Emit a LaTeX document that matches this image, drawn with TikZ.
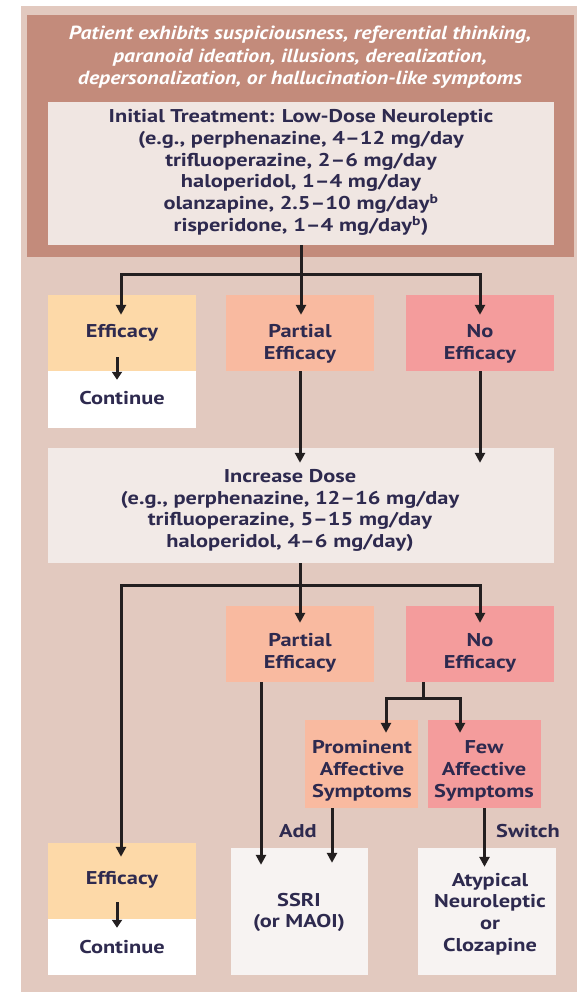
\documentclass[tikz,border=0pt]{standalone}
\usepackage{fontspec}
\setmainfont{PT Sans}
\newfontfamily\hdrfont[FakeStretch=1.15]{PT Sans}
\newfontfamily\bodyfont[FakeStretch=1.21]{PT Sans}
\usetikzlibrary{arrows.meta}
\definecolor{outerbg}{HTML}{E2C9BF}
\definecolor{hdrbg}{HTML}{C38B7B}
\definecolor{initbg}{HTML}{F0E6E2}
\definecolor{effbg}{HTML}{FDD9A8}
\definecolor{parbg}{HTML}{F9BAA0}
\definecolor{nobg}{HTML}{F49C9C}
\definecolor{incbg}{HTML}{F2EAE7}
\definecolor{resbg}{HTML}{F7F3F2}
\definecolor{txt}{HTML}{2E2A4F}
\definecolor{ink}{HTML}{231F20}
\begin{document}
\begin{tikzpicture}[x=1pt,y=-1pt,
  box/.style={rectangle, inner sep=0pt, draw=none},
  txtnode/.style={align=center, inner sep=0pt, text=txt, font=\bodyfont\bfseries\fontsize{18.5}{21.7}\selectfont},
  conn/.style={line width=3pt, draw=ink, line join=miter},
  arr/.style={conn, -{Triangle[length=10pt,width=10pt]}},
  sarr/.style={conn, -{Triangle[length=8pt,width=10pt]}}]
\useasboundingbox (0,0) rectangle (577,993);
\fill[outerbg] (21,6) rectangle (577,992);
% boxes
\node[box, fill=hdrbg, minimum width=547pt, minimum height=242pt] (hdr) at (300.5,136) {};
\node[box, fill=initbg, minimum width=506pt, minimum height=143pt] (init) at (301,173.5) {};
\node[box, fill=effbg, minimum width=148pt, minimum height=76pt] (eff1) at (122,333) {};
\node[box, fill=white, minimum width=148pt, minimum height=57pt] (cont1) at (122,399.5) {};
\node[box, fill=parbg, minimum width=148pt, minimum height=76pt] (par1) at (300,333) {};
\node[box, fill=nobg, minimum width=148pt, minimum height=76pt] (no1) at (480,333) {};
\node[box, fill=incbg, minimum width=506pt, minimum height=115pt] (inc) at (301,505.5) {};
\node[box, fill=parbg, minimum width=148pt, minimum height=76pt] (par2) at (300,644) {};
\node[box, fill=nobg, minimum width=148pt, minimum height=76pt] (no2) at (480,644) {};
\node[box, fill=parbg, minimum width=113pt, minimum height=88pt] (prom) at (361.5,764) {};
\node[box, fill=nobg, minimum width=113pt, minimum height=88pt] (few) at (484.5,764) {};
\node[box, fill=effbg, minimum width=148pt, minimum height=76pt] (eff2) at (122,881) {};
\node[box, fill=white, minimum width=148pt, minimum height=56pt] (cont2) at (122,947) {};
\node[box, fill=resbg, minimum width=137pt, minimum height=127pt] (ssri) at (299.5,911.5) {};
\node[box, fill=resbg, minimum width=138pt, minimum height=127pt] (atyp) at (487,911.5) {};
% texts
\node[align=center, inner sep=0pt, text=white, font=\hdrfont\bfseries\itshape\fontsize{19}{22.5}\selectfont] (hdrt) at (300,57.5)
  {Patient exhibits suspiciousness, referential thinking,\\paranoid ideation, illusions, derealization,\\depersonalization, or hallucination-like symptoms};
\node[txtnode] (initt) at (301,172.5) {Initial Treatment: Low-Dose Neuroleptic\\(e.g., perphenazine, 4–12 mg/day\\trifluoperazine, 2–6 mg/day\\haloperidol, 1–4 mg/day\\olanzapine, 2.5–10 mg/day\textsuperscript{b}\\risperidone, 1–4 mg/day\textsuperscript{b})};
\node[txtnode] (eff1t) at (122,333) {Efficacy};
\node[txtnode] (cont1t) at (122,398) {Continue};
\node[txtnode] (par1t) at (300,344) {Partial\\Efficacy};
\node[txtnode] (no1t) at (480,344) {No\\Efficacy};
\node[txtnode] (inct) at (290,510.5) {Increase Dose\\(e.g., perphenazine, 12–16 mg/day\\trifluoperazine, 5–15 mg/day\\haloperidol, 4–6 mg/day)};
\node[txtnode] (par2t) at (300,653) {Partial\\Efficacy};
\node[txtnode] (no2t) at (480,653) {No\\Efficacy};
\node[txtnode] (promt) at (362,771) {Prominent\\Affective\\Symptoms};
\node[txtnode] (fewt) at (484,771) {Few\\Affective\\Symptoms};
\node[txtnode] (eff2t) at (122,880) {Efficacy};
\node[txtnode] (cont2t) at (122,947) {Continue};
\node[txtnode] (ssrit) at (299,912.5) {SSRI\\(or MAOI)};
\node[txtnode] (atypt) at (490,914) {Atypical\\Neuroleptic\\or\\Clozapine};
\node[txtnode, anchor=east] (add) at (317,831) {Add};
\node[txtnode, anchor=west] (switch) at (496,831) {Switch};
% connectors
\draw[conn] (init.south) -- ++(0,29) coordinate (j1);
\draw[arr] (j1) -| ([xshift=-1pt,yshift=-20pt]eff1.north);
\draw[arr] (j1) -| ([yshift=-20pt]no1.north);
\draw[arr] (j1) -- ([yshift=-20pt]j1 |- par1.north);
\draw[sarr] ([xshift=-5pt,yshift=14pt]eff1.south) -- ([xshift=-5pt,yshift=-9pt]cont1.north);
\draw[arr] (par1.south) -- ([yshift=-15pt]par1.south |- inc.north);
\draw[arr] (no1.south) -- ([yshift=-15pt]no1.south |- inc.north);
\draw[conn] ([xshift=-1pt]inc.south) -- ++(0,22) coordinate (j2);
\draw[arr] (j2) -| ([xshift=-1pt,yshift=-14pt]eff2.north);
\draw[arr] (j2) -| ([yshift=-17pt]no2.north);
\draw[arr] (j2) -- ([yshift=-17pt]par2.north);
\draw[arr] ([xshift=-39pt]par2.south) -- ([xshift=-39pt,yshift=-17pt]par2.south |- ssri.north);
\draw[conn] ([xshift=-57pt]no2.south) -- ++(0,16) coordinate (j3);
\draw[arr] (j3) -| ([xshift=24.5pt,yshift=-13pt]prom.north);
\draw[arr] (j3) -| ([xshift=-24.5pt,yshift=-13pt]few.north);
\draw[arr] ([xshift=-29.5pt]prom.south) -- ([xshift=-29.5pt,yshift=-15pt]prom.south |- ssri.north);
\draw[arr] (few.south) -- ([yshift=-19pt]few.south |- atyp.north);
\draw[sarr] ([xshift=-5pt,yshift=17pt]eff2.south) -- ([xshift=-5pt,yshift=-9pt]cont2.north);
\end{tikzpicture}
\end{document}
